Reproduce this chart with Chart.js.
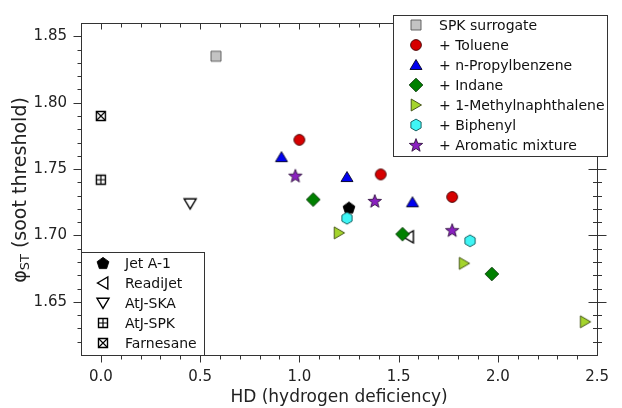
<!DOCTYPE html>
<html>
<head>
<meta charset="utf-8">
<script src="https://cdn.jsdelivr.net/npm/chart.js"></script>
<style>
  html, body { margin: 0; padding: 0; background: #fff; }
</style>
</head>
<body>
<canvas id="chart" width="622" height="408"></canvas>
<script>
// series names, in legend order
const seriesNames = ['SPK surrogate', '+ Toluene', '+ n-Propylbenzene', '+ Indane',
  '+ 1-Methylnaphthalene', '+ Biphenyl', '+ Aromatic mixture',
  'Jet A-1', 'ReadiJet', 'AtJ-SKA', 'AtJ-SPK', 'Farnesane'];

// HD values (x) and soot threshold values (y)
const spkHD = [0.58];               const spkST = [1.835];
const tolueneHD = [1.00, 1.41, 1.77]; const tolueneST = [1.772, 1.746, 1.729];
const propylHD = [0.91, 1.24, 1.57];  const propylST = [1.759, 1.744, 1.725];
const indaneHD = [1.07, 1.52, 1.97];  const indaneST = [1.727, 1.701, 1.671];
const methylnaphHD = [1.20, 1.83, 2.44]; const methylnaphST = [1.702, 1.679, 1.635];
const biphenylHD = [1.24, 1.86];      const biphenylST = [1.713, 1.696];
const aromHD = [0.98, 1.38, 1.77];    const aromST = [1.745, 1.726, 1.704];
const jetHD = [1.25];                 const jetST = [1.721];
const readiHD = [1.55];               const readiST = [1.699];
const skaHD = [0.45];                 const skaST = [1.724];
const atjSpkHD = [0.0];               const atjSpkST = [1.742];
const farnHD = [0.0];                 const farnST = [1.790];

const xTickValues = [0.0, 0.5, 1.0, 1.5, 2.0, 2.5];
const yTickValues = [1.65, 1.70, 1.75, 1.80, 1.85];

const FONT = 'DejaVu Sans';

// little canvases used as point styles
function marker(shape, fill, stroke) {
  const c = document.createElement('canvas');
  c.width = 18; c.height = 18;
  const g = c.getContext('2d');
  g.translate(9, 9);
  g.fillStyle = fill;
  g.strokeStyle = stroke;
  g.lineWidth = 0.9;
  g.lineJoin = 'miter';
  g.beginPath();
  if (shape === 'circle') {
    g.arc(0, 0, 5.4, 0, Math.PI * 2);
  } else if (shape === 'square' || shape === 'squarePlus' || shape === 'squareX') {
    const h = shape === 'square' ? 5 : 4.5;
    g.rect(-h, -h, 2 * h, 2 * h);
  } else if (shape === 'triUp') {
    g.moveTo(0, -5.5); g.lineTo(6, 4.5); g.lineTo(-6, 4.5); g.closePath();
  } else if (shape === 'triDown') {
    g.moveTo(0, 5.3); g.lineTo(6, -4.7); g.lineTo(-6, -4.7); g.closePath();
  } else if (shape === 'triRight') {
    g.moveTo(5.5, 0); g.lineTo(-4.8, -6); g.lineTo(-4.8, 6); g.closePath();
  } else if (shape === 'triLeft') {
    g.moveTo(-5.5, 0); g.lineTo(4.8, -6); g.lineTo(4.8, 6); g.closePath();
  } else if (shape === 'diamond') {
    g.moveTo(0, -6.8); g.lineTo(6.8, 0); g.lineTo(0, 6.8); g.lineTo(-6.8, 0); g.closePath();
  } else if (shape === 'hexagon') {
    for (let i = 0; i < 6; i++) {
      const a = -Math.PI / 2 + i * Math.PI / 3;
      g.lineTo(5.9 * Math.cos(a), 5.9 * Math.sin(a));
    }
    g.closePath();
  } else if (shape === 'pentagon') {
    for (let i = 0; i < 5; i++) {
      const a = -Math.PI / 2 + i * 2 * Math.PI / 5;
      g.lineTo(6.2 * Math.cos(a), 6.2 * Math.sin(a) + 0.6);
    }
    g.closePath();
  } else if (shape === 'star') {
    for (let i = 0; i < 10; i++) {
      const a = -Math.PI / 2 + i * Math.PI / 5;
      const r = i % 2 === 0 ? 7 : 2.9;
      g.lineTo(r * Math.cos(a), r * Math.sin(a) + 0.6);
    }
    g.closePath();
  }
  if (fill !== 'none') g.fill();
  if (shape === 'triLeft' || shape === 'triDown' || shape.indexOf('square') === 0 && fill === 'none') g.lineWidth = 1.4;
  g.stroke();
  if (shape === 'squarePlus') {
    g.beginPath();
    g.moveTo(0, -4.5); g.lineTo(0, 4.5);
    g.moveTo(-4.5, 0); g.lineTo(4.5, 0);
    g.lineWidth = 1.2; g.stroke();
  }
  if (shape === 'squareX') {
    g.beginPath();
    g.moveTo(-4.5, -4.5); g.lineTo(4.5, 4.5);
    g.moveTo(4.5, -4.5); g.lineTo(-4.5, 4.5);
    g.lineWidth = 1.2; g.stroke();
  }
  return c;
}

const markers = [
  marker('square', '#c3c3c3', '#555'),
  marker('circle', '#d60000', '#400'),
  marker('triUp', '#0000f0', '#002'),
  marker('diamond', '#008000', '#030'),
  marker('triRight', '#a4d42c', '#3a4a10'),
  marker('hexagon', '#3ff5f5', '#155'),
  marker('star', '#8a20c0', '#301040'),
  marker('pentagon', '#000', '#000'),
  marker('triLeft', 'none', '#000'),
  marker('triDown', 'none', '#000'),
  marker('squarePlus', 'none', '#000'),
  marker('squareX', 'none', '#000')
];

const xs = [spkHD, tolueneHD, propylHD, indaneHD, methylnaphHD, biphenylHD, aromHD,
  jetHD, readiHD, skaHD, atjSpkHD, farnHD];
const ys = [spkST, tolueneST, propylST, indaneST, methylnaphST, biphenylST, aromST,
  jetST, readiST, skaST, atjSpkST, farnST];

const datasets = seriesNames.map(function (name, i) {
  return {
    label: name,
    data: xs[i].map(function (x, j) { return { x: x, y: ys[i][j] }; }),
    pointStyle: markers[i],
    pointRadius: 6,
    showLine: false
  };
});

// frame + minor/major ticks on all four sides
const framePlugin = {
  id: 'frame',
  beforeDatasetsDraw(chart) {
    const ctx = chart.ctx, a = chart.chartArea;
    const sx = chart.scales.x, sy = chart.scales.y;
    const L = Math.round(a.left) + 0.5, R = Math.round(a.right) + 0.5;
    const T = Math.round(a.top) + 0.5, B = Math.round(a.bottom) + 0.5;
    ctx.save();
    ctx.strokeStyle = '#333';
    ctx.lineWidth = 1;
    ctx.strokeRect(L, T, R - L, B - T);
    ctx.beginPath();
    for (let i = 0; i < 25; i++) {
      const px = Math.round(sx.getPixelForValue(i / 10)) + 0.5;
      const major = i % 5 === 0;
      ctx.moveTo(px, B); ctx.lineTo(px, B + (major ? 7 : 4));
      ctx.moveTo(px, T); ctx.lineTo(px, T + (major ? 6 : 4));
    }
    for (let k = 162; k < 186; k++) {
      const py = Math.round(sy.getPixelForValue(k / 100)) + 0.5;
      const major = k % 5 === 0;
      ctx.moveTo(L - (major ? 8 : 4), py); ctx.lineTo(L, py);
      ctx.moveTo(R - (major ? 9 : 4.5), py); ctx.lineTo(R + (major ? 9 : 4.5), py);
    }
    ctx.stroke();

    // y axis title with subscript
    ctx.translate(19, (a.top + a.bottom) / 2 + 1);
    ctx.rotate(-Math.PI / 2);
    ctx.fillStyle = '#222';
    ctx.textBaseline = 'alphabetic';
    const big = '19px "' + FONT + '"', small = '13px "' + FONT + '"';
    ctx.font = big; const w1 = ctx.measureText('φ').width;
    ctx.font = small; const w2 = ctx.measureText('ST').width;
    ctx.font = big; const w3 = ctx.measureText(' (soot threshold)').width;
    let x0 = -(w1 + w2 + w3) / 2;
    ctx.font = big; ctx.fillText('φ', x0, 7);
    ctx.font = small; ctx.fillText('ST', x0 + w1, 10);
    ctx.font = big; ctx.fillText(' (soot threshold)', x0 + w1 + w2, 7);
    ctx.restore();
  }
};

// the two boxed legends
const legendPlugin = {
  id: 'boxLegends',
  afterDraw(chart) {
    const ctx = chart.ctx;
    const boxes = [
      { x: 393, y: 15, w: 214, h: 141, first: 0, last: 6, mx: 416, tx: 439, ty: 25 },
      { x: 81, y: 252, w: 123, h: 103, first: 7, last: 11, mx: 103, tx: 125, ty: 263 }
    ];
    ctx.save();
    boxes.forEach(function (b) {
      ctx.fillStyle = '#fff';
      ctx.fillRect(b.x + 0.5, b.y + 0.5, b.w, b.h);
      ctx.strokeStyle = '#333';
      ctx.lineWidth = 1;
      ctx.strokeRect(b.x + 0.5, b.y + 0.5, b.w, b.h);
      ctx.font = '14px "' + FONT + '"';
      ctx.fillStyle = '#111';
      ctx.textBaseline = 'middle';
      for (let i = b.first; i <= b.last; i++) {
        const yy = b.ty + (i - b.first) * 20;
        const m = chart.data.datasets[i].pointStyle;
        ctx.drawImage(m, b.mx - m.width / 2, yy - m.height / 2);
        ctx.fillText(chart.data.datasets[i].label, b.tx, yy + 1);
      }
    });
    ctx.restore();
  }
};

new Chart(document.getElementById('chart'), {
  type: 'scatter',
  data: { datasets: datasets },
  options: {
    responsive: false,
    animation: false,
    layout: { padding: { left: 0, right: 15, top: 15, bottom: 0 } },
    plugins: { legend: { display: false }, tooltip: { enabled: false } },
    scales: {
      x: {
        type: 'linear',
        min: -0.1,
        max: 2.5,
        afterBuildTicks: function (s) { s.ticks = xTickValues.map(function (v) { return { value: v }; }); },
        afterFit: function (s) { s.height = 53; },
        grid: { display: false, drawTicks: false },
        border: { display: false },
        ticks: {
          padding: 13,
          color: '#222',
          font: { family: FONT, size: 15 },
          callback: function (v) { return Number(v).toFixed(1); }
        },
        title: {
          display: true,
          text: 'HD (hydrogen deficiency)',
          color: '#222',
          font: { family: FONT, size: 17 },
          padding: { top: 0, bottom: 0 }
        }
      },
      y: {
        type: 'linear',
        min: 1.61,
        max: 1.86,
        afterBuildTicks: function (s) { s.ticks = yTickValues.map(function (v) { return { value: v }; }); },
        afterFit: function (s) { s.width = 81; },
        grid: { display: false, drawTicks: false },
        border: { display: false },
        ticks: {
          padding: 14,
          color: '#222',
          font: { family: FONT, size: 15 },
          callback: function (v) { return Number(v).toFixed(2); }
        }
      }
    }
  },
  plugins: [framePlugin, legendPlugin]
});
</script>
</body>
</html>
